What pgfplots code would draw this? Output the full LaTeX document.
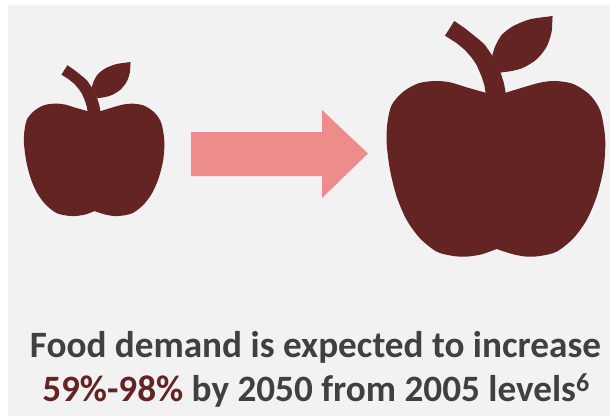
\documentclass[border=0pt]{standalone}
\usepackage{pgfplots}
\usepackage{pgfplotstable}
\usepackage{fontspec}
\setmainfont{Carlito}
\pgfplotsset{compat=1.18}
\definecolor{applered}{HTML}{632423}
\definecolor{arrowpink}{HTML}{EE8C8C}
\definecolor{panel}{HTML}{F2F2F2}
\definecolor{txt}{HTML}{404040}

% apple outline, read off the big apple
\pgfplotstableread{
x y
347 278
346 278
290 262
240 247
195 243
145 250
100 275
65 315
52 370
50 430
60 510
80 590
110 660
150 715
200 755
250 768
290 770
335 763
372 750
380 747
388 750
430 763
470 770
510 768
560 755
610 715
650 660
680 590
700 510
706 440
703 390
690 330
660 285
610 252
555 243
510 248
450 265
408 278
407 278
}\body
\pgfplotstableread{
x y
345 290
347 278
343 255
335 230
320 195
305 173
285 150
258 128
225 107
253 63
285 85
310 105
330 121
345 135
367 167
380 190
392 218
402 250
407 278
409 290
345 290
}\stem
\pgfplotstableread{
x y
367 167
368 163
375 140
395 105
430 78
480 58
540 49
548 48
547 56
545 95
530 140
500 178
460 203
425 213
396 217
392 218
}\leaf

% #1 x scale, #2 x shift, #3 y scale, #4 y shift
\newcommand{\apple}[4]{
  \addplot[fill=applered,draw=none,smooth] table[x expr=\thisrow{x}*#1+#2,y expr=\thisrow{y}*#3+#4] {\body};
  \addplot[fill=applered,draw=none,smooth] table[x expr=\thisrow{x}*#1+#2,y expr=\thisrow{y}*#3+#4] {\leaf};
  \addplot[fill=applered,draw=none] table[x expr=\thisrow{x}*#1+#2,y expr=\thisrow{y}*#3+#4] {\stem};
}

\begin{document}
\begin{tikzpicture}
\begin{axis}[
    width=610pt,
    height=416pt,
    scale only axis,
    hide axis,
    xmin=0, xmax=610,
    ymin=0, ymax=416,
    y dir=reverse,
    no markers,
]
\addplot[fill=white,draw=none] coordinates {(0,0) (610,0) (610,416) (0,416) (0,0)};
\addplot[fill=panel,draw=none] coordinates {(8,5) (610,5) (610,416) (8,416) (8,5)};
\apple{0.214}{13.3}{0.2133}{51.8}
\apple{0.3333}{370}{0.3333}{0}
\addplot[fill=arrowpink,draw=none] coordinates {
(191,132) (322,132) (322,110) (368,153.5) (322,198) (322,176) (191,176) (191,132)
};
\node[anchor=base,font=\fontsize{37.2}{37.2}\selectfont\bfseries,text=txt] at (axis cs:315.5,357) {Food demand is expected to increase};
\node[anchor=base,font=\fontsize{37.2}{37.2}\selectfont\bfseries,text=txt] at (axis cs:316,401) {\textcolor{applered}{59\%-98\%} by 2050 from 2005 levels\textsuperscript{6}};
\end{axis}
\end{tikzpicture}
\end{document}
